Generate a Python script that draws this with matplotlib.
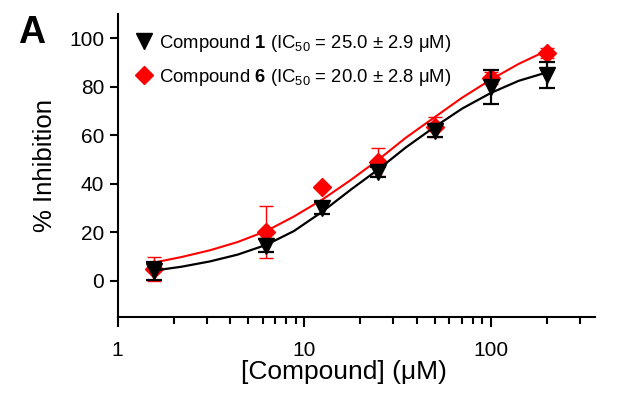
import numpy as np
import matplotlib
matplotlib.use("Agg")
import matplotlib.pyplot as plt

plt.rcParams['font.family'] = ['Liberation Sans', 'DejaVu Sans']
plt.rcParams['mathtext.fontset'] = 'custom'
plt.rcParams['mathtext.rm'] = 'Liberation Sans'
plt.rcParams['mathtext.bf'] = 'Liberation Sans:bold'

# measured points
conc = [1.5625, 6.25, 12.5, 25, 50, 100, 200]
cmpd1 = [4.2, 14.5, 30.0, 44.8, 62.0, 80.0, 85.0]
cmpd1_err = [3.7, 2.7, 2.5, 2.0, 2.5, 7.0, 5.4]
cmpd6 = [5.0, 20.3, 38.5, 49.0, 63.5, 83.5, 94.0]
cmpd6_err = [5.0, 10.7, 0.0, 5.8, 4.2, 2.5, 2.0]

# fitted curves
fit_x = [1.5625, 2.2, 3.13, 4.4, 6.25, 8.8, 12.5, 17.7, 25, 35, 50, 70, 100, 141, 200]
fit1 = [4.2, 5.8, 8.0, 10.8, 14.8, 20.5, 28.5, 37.5, 46.0, 55.0, 63.5, 71.0, 77.5, 82.5, 86.0]
fit6 = [7.5, 9.8, 12.6, 16.0, 20.5, 26.5, 33.5, 41.5, 50.0, 59.0, 67.5, 75.5, 83.0, 89.5, 95.0]

yticks = [0, 20, 40, 60, 80, 100]

fig = plt.figure(figsize=(6.32, 3.93), dpi=100)
ax = fig.add_axes([0.186, 0.193, 0.755, 0.771])

# red first, black on top
ax.plot(fit_x, fit6, color='red', lw=1.5, zorder=2)
ax.errorbar(conc, cmpd6, yerr=cmpd6_err, fmt='D', color='red', ms=9,
            mec='red', ecolor='red', elinewidth=1, capsize=5, capthick=1, zorder=3)
ax.plot(fit_x, fit1, color='black', lw=1.6, zorder=4)
ax.errorbar(conc, cmpd1, yerr=cmpd1_err, fmt='v', color='black', ms=11,
            ecolor='black', elinewidth=1.6, capsize=6, capthick=1.6, zorder=5)

h1, = ax.plot([], [], 'v', color='black', ms=11)
h6, = ax.plot([], [], 'D', color='red', ms=9)
ax.legend([h1, h6],
          [r"Compound $\mathbf{1}$ (IC$_{50}$ = 25.0 ± 2.9 μM)",
           r"Compound $\mathbf{6}$ (IC$_{50}$ = 20.0 ± 2.8 μM)"],
          loc='upper left', bbox_to_anchor=(-0.005, 1.0), frameon=False,
          fontsize=13.3, handletextpad=0.3, labelspacing=0.72,
          handlelength=1.1, borderaxespad=0.6)

ax.set_xscale('log')
ax.set_xlim(1, 360)
ax.set_ylim(-15, 110)
ax.set_yticks(yticks)
ax.set_xticks([1, 10, 100])
ax.set_xticklabels(['1', '10', '100'])

for s in ['top', 'right']:
    ax.spines[s].set_visible(False)
for s in ['left', 'bottom']:
    ax.spines[s].set_linewidth(1.5)

ax.tick_params(axis='both', which='major', labelsize=15, width=1.5, length=6, direction='out')
ax.tick_params(axis='x', which='minor', width=1.5, length=5, direction='out')
ax.tick_params(axis='x', which='major', length=7, pad=10)

ax.set_xlabel('[Compound] (μM)', fontsize=19, labelpad=0, x=0.475)
ax.set_ylabel('% Inhibition', fontsize=18.5, labelpad=9)

fig.text(0.05, 0.89, 'A', fontsize=27, fontweight='bold', ha='center', va='baseline')

fig.savefig('out.png', dpi=100)
